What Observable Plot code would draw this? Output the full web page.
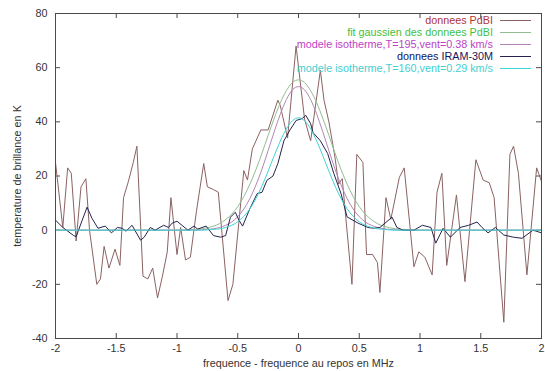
<!DOCTYPE html>
<html><head><meta charset="utf-8">
<script src="https://cdn.jsdelivr.net/npm/d3@7"></script>
<script src="https://cdn.jsdelivr.net/npm/@observablehq/plot@0.6"></script>
<style>
body{margin:0;background:#fff;font-family:"Liberation Sans",Arial,sans-serif;}
#wrap{position:relative;width:545px;height:371px;}
#legend{position:absolute;left:0;top:0;width:545px;font-size:10.8px;pointer-events:none;}
.row{position:absolute;left:0;width:493px;text-align:right;line-height:12px;height:12px;white-space:nowrap;}
.sample{position:absolute;left:500px;width:31px;height:0;}
</style></head><body><div id="wrap"></div>
<script>
// ---- data ----
const seriesNames = [
  "donnees PdBI",
  "fit gaussien des donnees PdBI",
  "modele isotherme,T=195,vent=0.38 km/s",
  "donnees IRAM-30M",
  "modele isotherme,T=160,vent=0.29 km/s"
];
const lineColors = ["#8a6262", "#92bc92", "#b386b5", "#24244e", "#3fd3d3"];
const textColors = ["#b03434", "#3fbf3f", "#bb44c4", "#14145e", "#3fd0d0"];

const pdbiX = [-2.00,-1.94,-1.90,-1.87,-1.83,-1.79,-1.75,-1.72,-1.66,-1.63,-1.60,-1.56,-1.51,-1.47,-1.44,-1.40,-1.36,-1.33,-1.28,-1.24,-1.20,-1.16,-1.12,-1.08,-1.05,-1.00,-0.97,-0.93,-0.89,-0.84,-0.78,-0.75,-0.70,-0.66,-0.58,-0.54,-0.45,-0.42,-0.38,-0.31,-0.25,-0.17,-0.15,-0.09,-0.02,0.05,0.10,0.18,0.21,0.25,0.30,0.33,0.36,0.44,0.48,0.53,0.56,0.61,0.65,0.67,0.72,0.76,0.83,0.87,0.95,0.99,1.04,1.10,1.14,1.18,1.22,1.30,1.37,1.46,1.52,1.57,1.61,1.69,1.74,1.77,1.81,1.88,1.96,2.00];
const pdbiY = [25,1,23,21,-4,16,19,0,-20,-18,-6,-14,-7,-13,12,18,25,31,-17,-18,-14,-25,-17,-8,12,-9,1,-11,-10,7,24.6,16,15,14,-26,-20,22,18.5,30,37,37,48,46,34,68,41,33,59,48,40,27,17,19,-20,28,25,-9,-9,-12,-23,12,4,19.5,23,-13.5,-8,-10,-16.5,14,21,-13,13,-19,26,18.5,17.5,12,-34,28,31,21,-16.5,23,18];

const iramX = [-2.00,-1.94,-1.85,-1.83,-1.78,-1.74,-1.70,-1.65,-1.59,-1.54,-1.49,-1.45,-1.42,-1.37,-1.30,-1.27,-1.22,-1.18,-1.11,-1.07,-1.04,-1.00,-0.91,-0.86,-0.83,-0.76,-0.70,-0.64,-0.60,-0.56,-0.52,-0.49,-0.46,-0.40,-0.34,-0.30,-0.26,-0.21,-0.17,-0.12,-0.07,-0.02,0.03,0.06,0.10,0.12,0.18,0.24,0.29,0.35,0.40,0.49,0.57,0.62,0.67,0.77,0.81,0.86,0.95,1.02,1.09,1.13,1.19,1.25,1.33,1.40,1.47,1.51,1.56,1.62,1.69,1.77,1.84,1.93,2.00];
const iramY = [3.7,1,-2,-2.4,3.7,8.5,4.4,0.7,1.5,-1,1,0.7,-0.4,1.8,-3.7,-2.6,1,0,1.8,1,2.6,3.3,0,1.5,0.4,1.5,-2,-2.6,-2,4.8,6.6,3.7,1.5,8,13.5,14,18.4,20,24.6,33,37,40.5,41.2,42.4,39.3,36,33,28.3,21,13.5,4.9,2.6,1,0.7,1,4.8,1,0,0,1.8,1,-4.8,0.7,-2.6,1,1.8,3,1,-1,1,-1.8,-2.6,-3,0,-1];

const modelX = [-2,-1,-0.9,-0.85,-0.8,-0.75,-0.7,-0.65,-0.6,-0.55,-0.5,-0.45,-0.4,-0.35,-0.3,-0.25,-0.2,-0.15,-0.1,-0.05,0,0.05,0.1,0.15,0.2,0.25,0.3,0.35,0.4,0.45,0.5,0.55,0.6,0.65,0.7,0.75,0.8,0.85,0.9,1,2];
const gaussY = [0,0,0.1,0.3,0.5,0.9,1.5,2.4,3.9,5.9,8.7,12.4,17.0,22.4,28.5,35.0,41.3,47.0,51.5,54.5,55.5,54.5,51.5,47.0,41.3,35.0,28.5,22.4,17.0,12.4,8.7,5.9,3.9,2.4,1.5,0.9,0.5,0.3,0.1,0,0];
const model195Y = [0,0,0,0,0.1,0.3,0.5,1.0,1.8,3.0,5.0,7.8,11.7,16.7,22.6,29.4,36.3,42.8,48.2,51.8,53,51.8,48.2,42.8,36.3,29.4,22.6,16.7,11.7,7.8,5.0,3.0,1.8,1.0,0.5,0.3,0.1,0,0,0,0];
const model160Y = [0,0,0,0,0,0.1,0.3,0.5,1.0,1.8,3.1,5.1,7.9,11.7,16.4,21.8,27.5,32.9,37.4,40.4,41.5,40.4,37.4,32.9,27.5,21.8,16.4,11.7,7.9,5.1,3.1,1.8,1.0,0.5,0.3,0.1,0,0,0,0,0];

const xTicks = [-2,-1.5,-1,-0.5,0,0.5,1,1.5,2];
const yTicks = [-40,-20,0,20,40,60,80];
const xLabel = "frequence - frequence au repos en MHz";
const yLabel = "temperature de brillance en K";

// ---- chart ----
const mk = (xs, ys) => xs.map((x, i) => ({x, y: ys[i]}));
const W = 545, H = 371, mL = 55, mR = 4, mT = 13, mB = 33;
const fw = W - mL - mR, fh = H - mT - mB, tick = 5;
const frameColor = "#4a4a4a";
const innerX = xTicks.slice(1, -1), innerY = yTicks.slice(1, -1);

const chart = Plot.plot({
  width: W, height: H,
  marginLeft: mL, marginRight: mR, marginTop: mT, marginBottom: mB,
  style: {fontFamily: '"Liberation Sans",Arial,sans-serif', fontSize: "10.8px", color: "#333", background: "white", overflow: "visible"},
  x: {domain: [-2, 2]},
  y: {domain: [-40, 80]},
  marks: [
    Plot.axisX(xTicks, {tickSize: 0, tickPadding: 6, tickFormat: d => String(d), label: xLabel, labelAnchor: "center", labelArrow: "none", labelOffset: 28}),
    Plot.axisY(yTicks, {tickSize: 0, tickPadding: 8, tickFormat: d => String(d), label: yLabel, labelAnchor: "center", labelArrow: "none", labelOffset: 42}),
    Plot.ruleX(innerX, {x: d => d, insetTop: fh - tick, stroke: frameColor}),
    Plot.ruleX(innerX, {x: d => d, insetBottom: fh - tick, stroke: frameColor}),
    Plot.ruleY(innerY, {y: d => d, insetRight: fw - tick, stroke: frameColor}),
    Plot.ruleY(innerY, {y: d => d, insetLeft: fw - tick, stroke: frameColor}),
    Plot.line(mk(pdbiX, pdbiY), {x: "x", y: "y", stroke: lineColors[0], strokeWidth: 1}),
    Plot.line(mk(modelX, gaussY), {x: "x", y: "y", stroke: lineColors[1], strokeWidth: 1, curve: "monotone-x"}),
    Plot.line(mk(modelX, model195Y), {x: "x", y: "y", stroke: lineColors[2], strokeWidth: 1, curve: "monotone-x"}),
    Plot.line(mk(iramX, iramY), {x: "x", y: "y", stroke: lineColors[3], strokeWidth: 1}),
    Plot.line(mk(modelX, model160Y), {x: "x", y: "y", stroke: lineColors[4], strokeWidth: 1, curve: "monotone-x"}),
    Plot.frame({stroke: frameColor})
  ]
});
const wrap = document.getElementById("wrap");
wrap.appendChild(chart);

// legend (inside plot, top right, gnuplot style)
const legend = document.createElement("div");
legend.id = "legend";
const rowTops = [14, 26, 38, 50, 61.5];
seriesNames.forEach((name, i) => {
  const r = document.createElement("div");
  r.className = "row";
  r.style.top = rowTops[i] + "px";
  r.style.color = textColors[i];
  r.textContent = name;
  legend.appendChild(r);
  const s = document.createElement("div");
  s.className = "sample";
  s.style.top = (rowTops[i] + 6) + "px";
  s.style.borderTop = "1px solid " + lineColors[i];
  legend.appendChild(s);
});
wrap.appendChild(legend);
</script>
</body></html>
